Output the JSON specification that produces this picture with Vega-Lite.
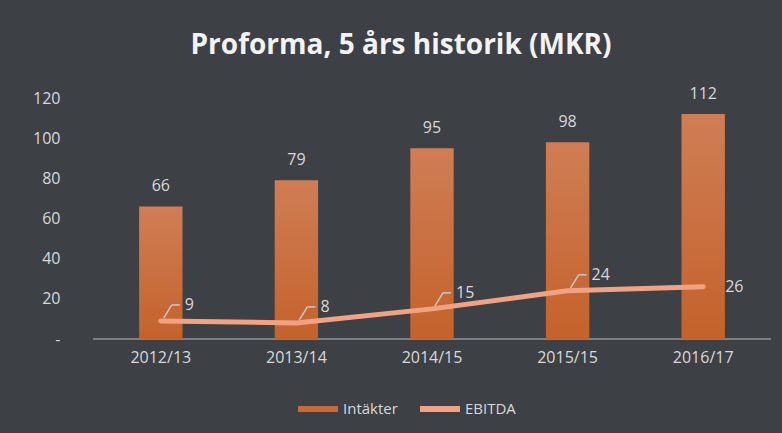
{
  "$schema": "https://vega.github.io/schema/vega-lite/v6.json",
  "width": 678,
  "height": 241,
  "autosize": {"type": "none"},
  "padding": {"left": 93, "top": 98, "right": 11, "bottom": 94},
  "background": "#3d4044",
  "title": {
    "text": "Proforma, 5 års historik (MKR)",
    "font": "Open Sans",
    "fontSize": 28,
    "fontWeight": "bold",
    "color": "#f2f2f2",
    "anchor": "middle",
    "dx": -31,
    "offset": 26,
    "limit": 0
  },
  "config": {
    "view": {"stroke": null},
    "font": "Open Sans",
    "axis": {"domain": false, "ticks": false, "labelColor": "#d9d9d9", "labelFontSize": 16, "labelFont": "Open Sans", "title": null}
  },
  "data": {
    "values": [
      {"year": "2012/13", "Intäkter": 66, "EBITDA": 9},
      {"year": "2013/14", "Intäkter": 79, "EBITDA": 8},
      {"year": "2014/15", "Intäkter": 95, "EBITDA": 15},
      {"year": "2015/15", "Intäkter": 98, "EBITDA": 24},
      {"year": "2016/17", "Intäkter": 112, "EBITDA": 26}
    ]
  },
  "encoding": {
    "x": {
      "field": "year", "type": "nominal", "sort": null,
      "scale": {"paddingInner": 0.68, "paddingOuter": 0.34},
      "axis": {"labelAngle": 0, "labelPadding": 10, "grid": false}
    }
  },
  "layer": [
    {
      "mark": {"type": "rule", "color": "#7d8083", "strokeWidth": 1.5},
      "encoding": {"y": {"datum": 0, "type": "quantitative"}, "x": null}
    },
    {
      "mark": {"type": "bar", "color": {"gradient": "linear", "x1": 0, "y1": 0, "x2": 0, "y2": 1, "stops": [{"offset": 0, "color": "#d07d55"}, {"offset": 1, "color": "#c4622b"}]}},
      "encoding": {
        "y": {
          "field": "Intäkter", "type": "quantitative",
          "scale": {"domain": [0, 120]},
          "axis": {"values": [0, 20, 40, 60, 80, 100, 120], "gridColor": "#595c60", "gridWidth": 1.5, "labelPadding": 33, "labelExpr": "datum.value == 0 ? '-' : datum.label"}
        }
      }
    },
    {
      "mark": {"type": "text", "color": "#d9d9d9", "fontSize": 16, "dy": -20},
      "encoding": {
        "y": {"field": "Intäkter", "type": "quantitative"},
        "text": {"field": "Intäkter", "type": "quantitative"}
      }
    },
    {
      "transform": [{"filter": "datum.year != '2016/17'"}],
      "mark": {"type": "rule", "color": "#c8c8c8", "strokeWidth": 1.5, "xOffset": 3, "x2Offset": 11, "yOffset": -3, "y2Offset": -16},
      "encoding": {
        "y": {"field": "EBITDA", "type": "quantitative"},
        "y2": {"field": "EBITDA"},
        "x2": {"field": "year"}
      }
    },
    {
      "transform": [{"filter": "datum.year != '2016/17'"}],
      "mark": {"type": "rule", "color": "#c8c8c8", "strokeWidth": 1.5, "xOffset": 11, "x2Offset": 19, "yOffset": -16, "y2Offset": -16},
      "encoding": {
        "y": {"field": "EBITDA", "type": "quantitative"},
        "y2": {"field": "EBITDA"},
        "x2": {"field": "year"}
      }
    },
    {
      "mark": {"type": "line", "color": "#f1a283", "strokeWidth": 5, "strokeCap": "round", "strokeJoin": "round"},
      "encoding": {"y": {"field": "EBITDA", "type": "quantitative"}}
    },
    {
      "transform": [{"filter": "datum.year != '2016/17'"}],
      "mark": {"type": "text", "color": "#d9d9d9", "fontSize": 16, "align": "left", "dx": 24, "dy": -16},
      "encoding": {
        "y": {"field": "EBITDA", "type": "quantitative"},
        "text": {"field": "EBITDA", "type": "quantitative"}
      }
    },
    {
      "transform": [{"filter": "datum.year == '2016/17'"}],
      "mark": {"type": "text", "color": "#d9d9d9", "fontSize": 16, "align": "left", "dx": 22, "dy": 0},
      "encoding": {
        "y": {"field": "EBITDA", "type": "quantitative"},
        "text": {"field": "EBITDA", "type": "quantitative"}
      }
    },
    {
      "transform": [{"fold": ["Intäkter", "EBITDA"], "as": ["serie", "v"]}, {"filter": "false"}],
      "mark": {"type": "point", "opacity": 0},
      "encoding": {
        "color": {
          "field": "serie", "type": "nominal",
          "scale": {"domain": ["Intäkter", "EBITDA"], "range": ["#cb6a34", "#f1a283"]},
          "legend": {
            "orient": "none", "legendX": 202, "legendY": 288, "direction": "horizontal",
            "title": null, "labelColor": "#d9d9d9", "labelFontSize": 15, "labelFont": "Open Sans",
            "symbolType": "stroke", "symbolSize": 1600, "symbolStrokeWidth": 6, "symbolOpacity": 1,
            "columnPadding": 10, "labelOffset": 2,
            "encode": {
              "symbols": {"update": {"strokeWidth": {"signal": "datum.value == 'Intäkter' ? 10 : 6"}, "strokeCap": {"signal": "datum.value == 'Intäkter' ? 'butt' : 'round'"}}}
            }
          }
        }
      }
    }
  ]
}
